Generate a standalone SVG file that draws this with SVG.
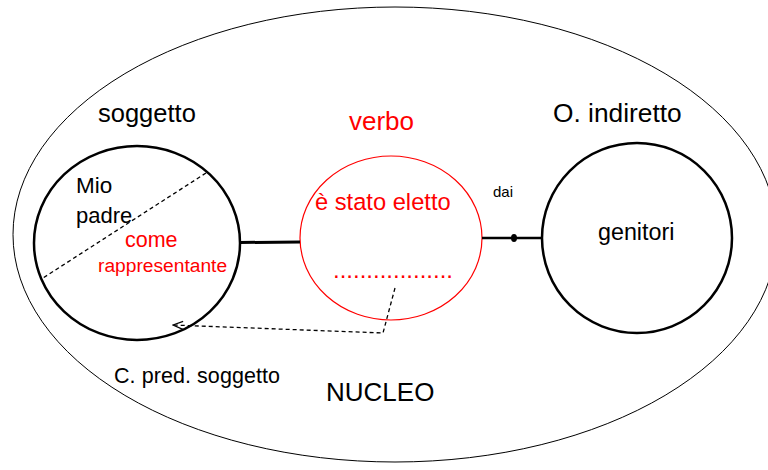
<svg xmlns="http://www.w3.org/2000/svg" width="768" height="470" viewBox="0 0 768 470">
<style>
  .lbl { font-family: "Liberation Sans", Arial, sans-serif; fill: #000; }
  .red { fill: #ff0000; }
  .node { fill: none; stroke: #000; stroke-width: 2.5; }
  .dash { fill: none; stroke: #000; stroke-width: 1.3; stroke-dasharray: 4 3; }
</style>
<defs>
  <marker id="openArrow" markerWidth="12" markerHeight="10" refX="11" refY="5" orient="auto" markerUnits="userSpaceOnUse">
    <path d="M1,1 L11,5 L1,9" fill="none" stroke="#000" stroke-width="1.2"/>
  </marker>
</defs>
<rect width="768" height="470" fill="#fff"/>

<g id="nucleo">
  <ellipse cx="395" cy="234.5" rx="382" ry="227.5" fill="none" stroke="#000" stroke-width="1"/>
  <text class="lbl" x="326" y="401" font-size="26">NUCLEO</text>
</g>

<g id="soggetto">
  <text class="lbl" x="98" y="122" font-size="25.5">soggetto</text>
  <ellipse class="node" cx="137" cy="243" rx="103" ry="97"/>
  <line class="dash" x1="206" y1="173" x2="43" y2="278" stroke-width="1" stroke-dasharray="3.5 3"/>
  <text class="lbl" x="76" y="193" font-size="22.5">Mio</text>
  <text class="lbl" x="76" y="223" font-size="22">padre</text>
  <text class="lbl red" x="125" y="247" font-size="21.5">come</text>
  <text class="lbl red" x="98" y="272" font-size="19.2">rappresentante</text>
</g>

<g id="verbo">
  <text class="lbl red" x="349" y="130" font-size="26">verbo</text>
  <ellipse cx="391" cy="238" rx="91" ry="82" fill="none" stroke="#ff0000" stroke-width="1.2"/>
  <text class="lbl red" x="315" y="210" font-size="23.7">è stato eletto</text>
  <text class="lbl red" x="333" y="278" font-size="24">..................</text>
</g>

<g id="oindiretto">
  <text class="lbl" x="553" y="122" font-size="26.3">O. indiretto</text>
  <ellipse class="node" cx="637" cy="238" rx="95" ry="95"/>
  <text class="lbl" x="598" y="240" font-size="23.3">genitori</text>
</g>

<g id="cpred">
  <text class="lbl" x="114" y="383" font-size="21.5" textLength="166">C. pred. soggetto</text>
</g>

<g id="connectors">
  <line x1="240" y1="242.5" x2="300" y2="242" stroke="#000" stroke-width="3"/>
  <line x1="482" y1="238" x2="542" y2="238" stroke="#000" stroke-width="2.5"/>
  <ellipse cx="514" cy="238" rx="3" ry="4" fill="#000"/>
  <text class="lbl" x="493" y="197" font-size="15">dai</text>
  <polyline class="dash" points="395,288 383,333 173,325" marker-end="url(#openArrow)"/>
</g>
</svg>
